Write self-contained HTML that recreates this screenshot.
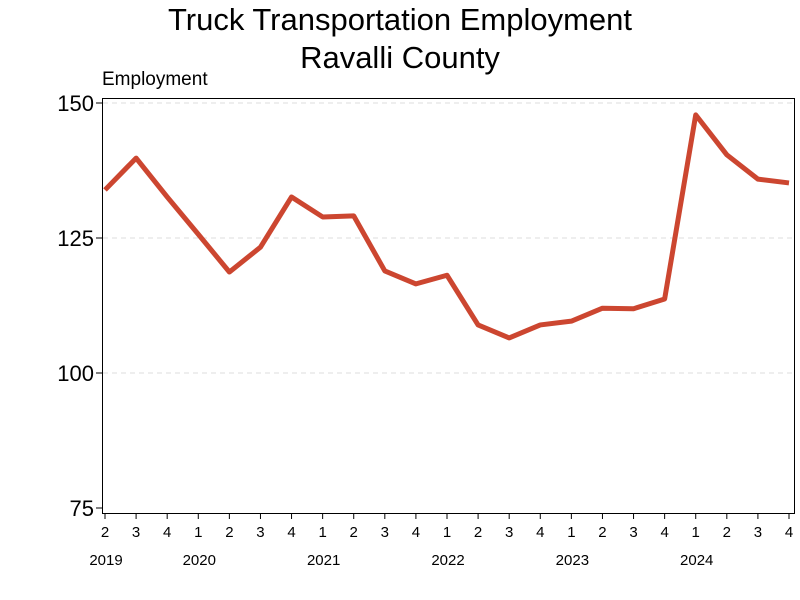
<!DOCTYPE html>
<html><head><meta charset="utf-8"><style>
body{margin:0;background:#fff;}
svg{display:block;font-family:"Liberation Sans",sans-serif;}
</style></head><body>
<svg width="800" height="600">
<text x="400" y="30" text-anchor="middle" font-size="31">Truck Transportation Employment</text>
<text x="400" y="68" text-anchor="middle" font-size="31">Ravalli County</text>
<text x="102" y="85" font-size="19">Employment</text>
<g id="grid"></g><g id="yaxis"></g><g id="xaxis"></g><g id="series"></g>
<rect x="102.5" y="98.5" width="692" height="415" fill="none" stroke="#000" stroke-width="1"/>
</svg>
<script>
const quarters=["2","3","4","1","2","3","4","1","2","3","4","1","2","3","4","1","2","3","4","1","2","3","4"];
const values=[133.9,139.8,132.6,125.7,118.7,123.3,132.6,128.9,129.1,118.9,116.5,118.1,108.9,106.5,108.9,109.6,112.0,111.9,113.7,147.8,140.4,135.9,135.2];
const yTicks=[75,100,125,150];
const yearLabels=["2019","2020","2021","2022","2023","2024"];
const yearIdx=[0,3,7,11,15,19];
const NS="http://www.w3.org/2000/svg";
const x=i=>105+i*(789-105)/(quarters.length-1);
const y=v=>103+(150-v)*5.4;
function mk(t,a,p){const e=document.createElementNS(NS,t);for(const k in a)e.setAttribute(k,a[k]);p.appendChild(e);return e;}
const g=document.getElementById('grid'),ya=document.getElementById('yaxis'),xa=document.getElementById('xaxis'),s=document.getElementById('series');
yTicks.forEach(v=>{
 if(v>75){const l=mk('line',{x1:103,x2:795,y1:y(v),y2:y(v),stroke:'#ddd','stroke-dasharray':'5,4'},g);
 
 }
 const tk=mk('line',{x1:96,x2:102,y1:y(v),y2:y(v),stroke:'#000'},ya);
 
 
 const t=mk('text',{x:94,y:y(v)+8,'text-anchor':'end','font-size':22},ya);t.textContent=v;
 
 
});
quarters.forEach((q,i)=>{
 const tk=mk('line',{x1:x(i),x2:x(i),y1:514,y2:519,stroke:'#000'},xa);
 
 
 const t=mk('text',{x:x(i),y:537,'text-anchor':'middle','font-size':15},xa);t.textContent=q;
 
 
});
yearLabels.forEach((yr,k)=>{
 const t=mk('text',{x:x(yearIdx[k])+1,y:565,'text-anchor':'middle','font-size':15},xa);t.textContent=yr;
 
 
});
const p=mk('polyline',{points:values.map((v,i)=>x(i)+','+y(v)).join(' '),fill:'none',stroke:'#cc4630','stroke-width':5,'stroke-linejoin':'round'},s);


</script>
</body></html>
